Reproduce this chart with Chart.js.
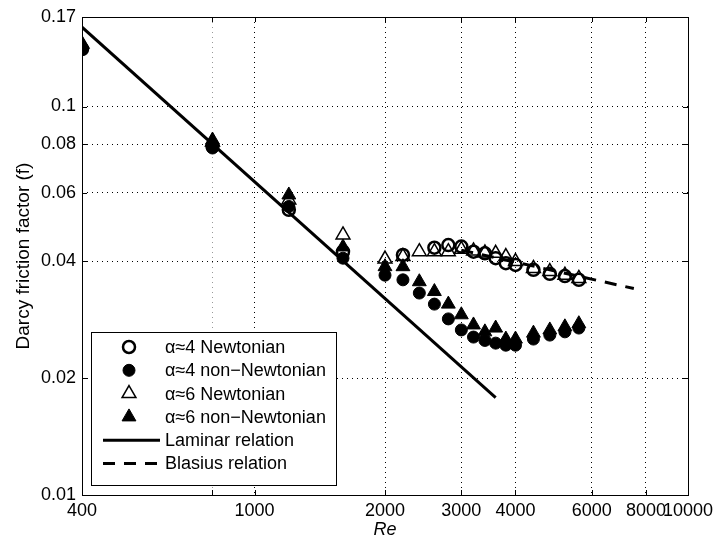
<!DOCTYPE html>
<html>
<head>
<meta charset="utf-8">
<script src="https://cdn.jsdelivr.net/npm/chart.js@4.4.0/dist/chart.umd.min.js"></script>
<style>
  html, body { margin: 0; padding: 0; background: #fff; }
</style>
</head>
<body>
<canvas id="chart" width="715" height="544"></canvas>
<script>
// Reynolds numbers of the measured points
var reynolds = [400, 800, 1200, 1600, 2000, 2200, 2400, 2600, 2800, 3000, 3200, 3400, 3600, 3800, 4000, 4400, 4800, 5200, 5600];
// friction factor per series (null = no marker)
var alpha4Newtonian    = [0.1406, 0.0790, 0.0542, 0.0423, null,   0.0415, null,   0.0433, 0.0440, 0.0436, 0.0423, 0.0419, 0.0407, 0.0395, 0.0391, 0.0380, 0.0371, 0.0366, 0.0358];
var alpha4NonNewtonian = [0.1406, 0.0782, 0.0553, 0.0407, 0.0368, 0.0358, 0.0331, 0.0310, 0.0284, 0.0266, 0.0255, 0.0250, 0.0246, 0.0243, 0.0243, 0.0252, 0.0258, 0.0263, 0.0269];
var alpha6Newtonian    = [0.1448, 0.0810, 0.0575, 0.0467, 0.0405, 0.0411, 0.0423, 0.0423, 0.0423, 0.0429, 0.0425, 0.0420, 0.0419, 0.0411, 0.0399, 0.0383, 0.0376, 0.0368, 0.0361];
var alpha6NonNewtonian = [0.1448, 0.0820, 0.0592, 0.0435, 0.0387, 0.0387, 0.0354, 0.0334, 0.0310, 0.0291, 0.0274, 0.0263, 0.0269, 0.0252, 0.0252, 0.0261, 0.0266, 0.0271, 0.0276];
// reference relations (end points)
var laminarRe = [400, 3600];
var laminarF = [0.160, 0.0178];
var blasiusRe = [3000, 7500];
var blasiusF = [0.0427, 0.0340];
// axis ticks
var xTicks = [400, 800, 1000, 2000, 3000, 4000, 6000, 8000, 10000];
var xTickLabels = ['400', '', '1000', '2000', '3000', '4000', '6000', '8000', '10000'];
var yTicks = [0.01, 0.02, 0.04, 0.06, 0.08, 0.1, 0.17];
var yTickLabels = ['0.01', '0.02', '0.04', '0.06', '0.08', '0.1', '0.17'];

var FONT = '"Liberation Sans", Arial, Helvetica, sans-serif';

function points(xs, ys) {
  var out = [];
  for (var i = 0; i < xs.length; i++) {
    if (ys[i] != null) out.push({ x: xs[i], y: ys[i] });
  }
  return out;
}

function marker(ctx, style, r, filled, lw, x, y) {
  ctx.beginPath();
  if (style === 'circle') {
    ctx.arc(x, y, r, 0, Math.PI * 2);
  } else {
    for (var k = 0; k < 3; k++) {
      var a = k * 2 * Math.PI / 3;
      var px = x + Math.sin(a) * r, py = y - Math.cos(a) * r;
      if (k === 0) ctx.moveTo(px, py); else ctx.lineTo(px, py);
    }
    ctx.closePath();
  }
  if (filled) { ctx.fillStyle = '#000'; ctx.fill(); }
  ctx.lineWidth = lw;
  ctx.strokeStyle = '#000';
  ctx.stroke();
}

var frameAndLegend = {
  id: 'frameAndLegend',
  afterDraw: function (chart) {
    var ctx = chart.ctx, a = chart.chartArea;
    var xs = chart.scales.x, ys = chart.scales.y;
    ctx.save();
    // axes box
    ctx.strokeStyle = '#000';
    ctx.lineWidth = 1;
    ctx.setLineDash([]);
    ctx.strokeRect(Math.round(a.left) + 0.5, Math.round(a.top) + 0.5, Math.round(a.right - a.left), Math.round(a.bottom - a.top));
    // inward ticks on all four sides
    ctx.beginPath();
    xTicks.forEach(function (v) {
      var px = Math.round(xs.getPixelForValue(v)) + 0.5;
      ctx.moveTo(px, a.bottom); ctx.lineTo(px, a.bottom - 5);
      ctx.moveTo(px, a.top); ctx.lineTo(px, a.top + 5);
    });
    yTicks.forEach(function (v) {
      var py = Math.round(ys.getPixelForValue(v)) + 0.5;
      ctx.moveTo(a.left, py); ctx.lineTo(a.left + 5, py);
      ctx.moveTo(a.right, py); ctx.lineTo(a.right - 5, py);
    });
    ctx.stroke();

    // legend box
    var lx = 91.5, ly = 332.5, lw = 245, lh = 153;
    ctx.fillStyle = '#fff';
    ctx.fillRect(lx, ly, lw, lh);
    ctx.strokeRect(lx, ly, lw, lh);
    ctx.font = '18px ' + FONT;
    ctx.textBaseline = 'middle';
    chart.data.datasets.forEach(function (ds, i) {
      var y = 347 + i * 23.3;
      if (ds.showLine) {
        ctx.beginPath();
        ctx.lineWidth = ds.borderWidth;
        ctx.strokeStyle = '#000';
        ctx.setLineDash(ds.borderDash || []);
        ctx.moveTo(103, y); ctx.lineTo(160, y);
        ctx.stroke();
        ctx.setLineDash([]);
      } else {
        marker(ctx, ds.pointStyle, ds.pointRadius, ds.backgroundColor === '#000', ds.borderWidth, 129, y);
      }
      ctx.fillStyle = '#000';
      ctx.fillText(ds.label, 165, y + 1);
    });
    ctx.restore();
  }
};

new Chart(document.getElementById('chart'), {
  type: 'scatter',
  data: {
    datasets: [
      { label: 'α≈4 Newtonian', data: points(reynolds, alpha4Newtonian), pointStyle: 'circle', pointRadius: 6, borderWidth: 2.5, borderColor: '#000', backgroundColor: 'rgba(0,0,0,0)' },
      { label: 'α≈4 non−Newtonian', data: points(reynolds, alpha4NonNewtonian), pointStyle: 'circle', pointRadius: 6, borderWidth: 1, borderColor: '#000', backgroundColor: '#000' },
      { label: 'α≈6 Newtonian', data: points(reynolds, alpha6Newtonian), pointStyle: 'triangle', pointRadius: 8, borderWidth: 1.5, borderColor: '#000', backgroundColor: 'rgba(0,0,0,0)' },
      { label: 'α≈6 non−Newtonian', data: points(reynolds, alpha6NonNewtonian), pointStyle: 'triangle', pointRadius: 8, borderWidth: 1, borderColor: '#000', backgroundColor: '#000' },
      { label: 'Laminar relation', data: points(laminarRe, laminarF), showLine: true, pointRadius: 0, borderWidth: 3, borderColor: '#000', backgroundColor: '#000' },
      { label: 'Blasius relation', data: points(blasiusRe, blasiusF), showLine: true, pointRadius: 0, borderWidth: 3, borderDash: [12, 9], borderColor: '#000', backgroundColor: '#000' }
    ]
  },
  options: {
    responsive: false,
    animation: false,
    layout: { padding: { top: 17, right: 27, left: 0, bottom: 0 } },
    plugins: { legend: { display: false }, tooltip: { enabled: false } },
    scales: {
      x: {
        type: 'logarithmic',
        min: 400, max: 10000,
        afterBuildTicks: function (s) { s.ticks = xTicks.map(function (v) { return { value: v }; }); },
        afterFit: function (s) { s.height = 49; s.paddingLeft = 0; s.paddingRight = 0; },
        ticks: {
          autoSkip: false, maxRotation: 0, padding: 5, color: '#000',
          font: { family: FONT, size: 18 },
          callback: function (v) { var i = xTicks.indexOf(v); return i < 0 ? '' : xTickLabels[i]; }
        },
        grid: {
          drawTicks: false,
          color: function (c) { return c.tick && c.tick.value === 800 ? '#999' : '#000'; }
        },
        border: { display: false, dash: [1, 4] },
        title: { display: true, text: 'Re', color: '#000', font: { family: FONT, size: 18, style: 'italic' }, padding: { top: 0, bottom: 3 } }
      },
      y: {
        type: 'logarithmic',
        min: 0.01, max: 0.17,
        afterBuildTicks: function (s) { s.ticks = yTicks.map(function (v) { return { value: v }; }); },
        afterFit: function (s) { s.width = 82; s.paddingTop = 0; s.paddingBottom = 0; },
        ticks: {
          autoSkip: false, padding: 6, color: '#000',
          font: { family: FONT, size: 18 },
          callback: function (v) { var i = yTicks.indexOf(v); return i < 0 ? '' : yTickLabels[i]; }
        },
        grid: { drawTicks: false, color: '#000' },
        border: { display: false, dash: [1, 4] },
        title: { display: true, text: 'Darcy friction factor (f)', color: '#000', font: { family: FONT, size: 19 }, padding: { top: 12, bottom: 0 } }
      }
    }
  },
  plugins: [frameAndLegend]
});
</script>
</body>
</html>
